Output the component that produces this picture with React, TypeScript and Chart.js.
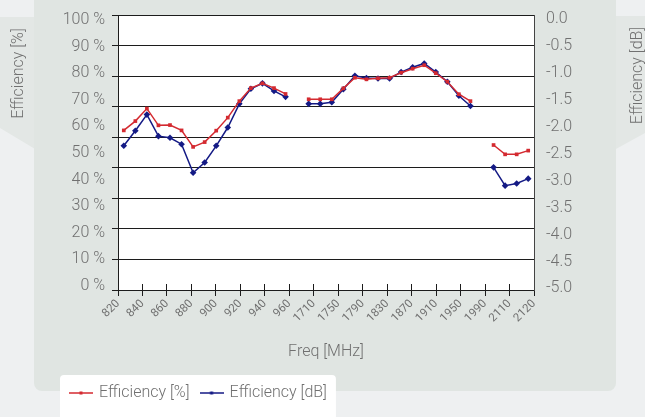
import React, { useEffect, useRef } from 'react';
import { Chart, registerables } from 'chart.js';

Chart.register(...registerables);

// ---- data ----
const categories = [
  '820', '830', '840', '850', '860', '870', '880', '890', '900', '910', '920', '930', '940', '950', '960',
  '',
  '1710', '1730', '1750', '1770', '1790', '1810', '1830', '1850', '1870', '1890', '1910', '1930', '1950', '1970', '1990',
  '',
  '2110', '2120', '2130', '2140',
];

const efficiencyPercent = [
  58.5, 62.0, 66.7, 60.4, 60.5, 58.5, 52.3, 54.1, 58.4, 63.3, 69.5, 74.4, 76.2, 74.4, 72.2,
  null,
  70.2, 70.2, 70.2, 74.3, 78.3, 77.7, 78.1, 78.3, 80.2, 81.7, 83.0, 80.0, 76.8, 72.1, 69.5,
  null,
  53.0, 49.5, 49.5, 50.9,
];

const efficiencyDb = [
  -2.35, -2.07, -1.77, -2.17, -2.2, -2.32, -2.85, -2.66, -2.35, -2.01, -1.57, -1.29, -1.19, -1.33, -1.44,
  null,
  -1.57, -1.57, -1.54, -1.3, -1.05, -1.09, -1.1, -1.1, -0.98, -0.89, -0.82, -0.98, -1.16, -1.42, -1.61,
  null,
  -2.75, -3.09, -3.05, -2.96,
];

const freqTickLabels = [
  '820', '840', '860', '880', '900', '920', '940', '960',
  '1710', '1750', '1790', '1830', '1870', '1910', '1950', '1990',
  '2110', '2120',
];

const percentTicks = [0, 10, 20, 30, 40, 50, 60, 70, 80, 90, 100];
const dbTicks = [-5, -4.5, -4, -3.5, -3, -2.5, -2, -1.5, -1, -0.5, 0];
const gridLineCount = 10;

const seriesNames = ['Efficiency [%]', 'Efficiency [dB]'];
const axisTitles = { x: 'Freq [MHz]', left: 'Efficiency [%]', right: 'Efficiency [dB]' };

// ---- style ----
const FAMILY = 'Roboto, "Open Sans", "Liberation Sans", sans-serif';
const GREY = '#707070';
const RED = '#d42a30';
const BLUE = '#141a85';
const LINE = '#1c1c1c';

function makeIcon(color: string) {
  const c = document.createElement('canvas');
  c.width = 24;
  c.height = 8;
  const g = c.getContext('2d')!;
  g.strokeStyle = color;
  g.lineWidth = 1.5;
  g.beginPath();
  g.moveTo(0, 4);
  g.lineTo(24, 4);
  g.stroke();
  g.fillStyle = color;
  g.fillRect(10.5, 2.5, 3, 3);
  return c;
}

const backgroundPlugin = {
  id: 'bgBoxes',
  beforeDraw(chart: any) {
    const { ctx, chartArea, legend } = chart;
    ctx.save();
    if (legend && legend.legendHitBoxes && legend.legendHitBoxes.length) {
      const last = legend.legendHitBoxes[legend.legendHitBoxes.length - 1];
      const x0 = legend.left + 1;
      const x1 = last.left + last.width + 9;
      const y0 = legend.top + 2;
      const y1 = chart.height + 6;
      ctx.fillStyle = '#ffffff';
      ctx.beginPath();
      (ctx as any).roundRect(x0, y0, x1 - x0, y1 - y0, 4);
      ctx.fill();
    }
    ctx.fillStyle = '#ffffff';
    ctx.fillRect(chartArea.left, chartArea.top, chartArea.right - chartArea.left, chartArea.bottom - chartArea.top);
    ctx.restore();
  },
  afterDraw(chart: any) {
    const { ctx } = chart;
    ctx.save();
    ctx.font = `300 16px ${FAMILY}`;
    ctx.fillStyle = GREY;
    ctx.textAlign = 'center';
    ctx.textBaseline = 'alphabetic';
    ctx.translate(22.7, 73.5);
    ctx.rotate(-Math.PI / 2);
    ctx.fillText(axisTitles.left, 0, 0);
    ctx.restore();
    ctx.save();
    ctx.font = `300 16px ${FAMILY}`;
    ctx.fillStyle = GREY;
    ctx.textAlign = 'center';
    ctx.textBaseline = 'alphabetic';
    ctx.translate(641.7, 75.5);
    ctx.rotate(-Math.PI / 2);
    ctx.fillText(axisTitles.right, 0, 0);
    ctx.restore();
  },
};

function ChartView() {
  const ref = useRef<HTMLCanvasElement | null>(null);

  useEffect(() => {
    if (!ref.current) return;
    const icons = [makeIcon(RED), makeIcon(BLUE)];
    const font16 = { family: FAMILY, size: 16, weight: '300' as any };
    const freqTickBuilder = (s: any) => {
      s.ticks = freqTickLabels.map((_, i) => ({ value: i }));
    };

    const chart = new Chart(ref.current, {
      type: 'line',
      data: {
        labels: categories,
        datasets: [
          {
            label: seriesNames[0],
            data: efficiencyPercent,
            xAxisID: 'x',
            yAxisID: 'y',
            borderColor: RED,
            backgroundColor: RED,
            borderWidth: 1.5,
            pointStyle: 'rect',
            pointRadius: 2.6,
            pointBorderWidth: 0,
            pointBackgroundColor: RED,
            tension: 0,
            spanGaps: false,
          },
          {
            label: seriesNames[1],
            data: efficiencyDb,
            xAxisID: 'x',
            yAxisID: 'y1',
            borderColor: BLUE,
            backgroundColor: BLUE,
            borderWidth: 1.5,
            pointStyle: 'rectRot',
            pointRadius: 3.3,
            pointBorderWidth: 0,
            pointBackgroundColor: BLUE,
            tension: 0,
            spanGaps: false,
          },
        ],
      },
      options: {
        animation: false,
        responsive: false,
        layout: { padding: { left: 59, right: 0, top: 15, bottom: 6 } },
        plugins: {
          tooltip: { enabled: false },
          legend: {
            display: true,
            position: 'bottom',
            align: 'start',
            labels: {
              font: font16,
              color: GREY,
              usePointStyle: true,
              pointStyleWidth: 20,
              padding: 12,
              generateLabels: (c: any) =>
                Chart.defaults.plugins.legend.labels
                  .generateLabels(c)
                  .map((item: any, i: number) => ({ ...item, pointStyle: icons[i] })),
            },
          } as any,
        },
        scales: {
          x: { type: 'category', display: false, offset: true },
          xTicks: {
            type: 'linear',
            position: 'bottom',
            min: 0,
            max: freqTickLabels.length - 1,
            afterBuildTicks: freqTickBuilder,
            afterFit: (s: any) => {
              s.height = 83;
            },
            ticks: {
              autoSkip: false,
              minRotation: 45,
              maxRotation: 45,
              padding: 1,
              color: GREY,
              font: { family: FAMILY, size: 11.5, weight: '400' as any },
              callback: (_v: any, i: number) => freqTickLabels[i],
            },
            grid: { drawOnChartArea: false, drawTicks: true, tickLength: 6, color: LINE },
            border: { display: true, color: LINE },
            title: { display: true, text: axisTitles.x, color: GREY, font: font16, padding: { top: 4, bottom: 11 } },
          },
          xTicksUp: {
            type: 'linear',
            axis: 'x',
            position: { yGrid: 0.2 },
            min: 0,
            max: freqTickLabels.length - 1,
            afterBuildTicks: freqTickBuilder,
            ticks: { display: false },
            grid: { drawOnChartArea: false, drawTicks: true, tickLength: 6, color: LINE },
            border: { display: false },
          },
          y: {
            type: 'linear',
            position: 'left',
            weight: 10,
            min: -1.5,
            max: 101.88,
            afterBuildTicks: (s: any) => {
              s.ticks = percentTicks.map((v) => ({ value: v }));
            },
            afterFit: (s: any) => {
              s.width = 59;
              s.paddingTop = 0;
              s.paddingBottom = 0;
            },
            ticks: { padding: 13, color: GREY, font: font16, callback: (v: any) => `${v} %` },
            grid: { display: false, drawTicks: false },
            border: { display: false },
          },
          yGrid: {
            type: 'linear',
            position: 'left',
            weight: 0,
            min: 0,
            max: gridLineCount - 1,
            afterBuildTicks: (s: any) => {
              s.ticks = Array.from({ length: gridLineCount }, (_, i) => ({ value: i }));
            },
            afterFit: (s: any) => {
              s.width = 0;
              s.paddingTop = 0;
              s.paddingBottom = 0;
            },
            ticks: { display: false },
            grid: { color: LINE, lineWidth: 1, drawTicks: true, tickLength: 6 },
            border: { display: true, color: LINE },
          },
          y1: {
            type: 'linear',
            position: 'right',
            min: -5.028,
            max: 0.08,
            afterBuildTicks: (s: any) => {
              s.ticks = dbTicks.map((v) => ({ value: v }));
            },
            afterFit: (s: any) => {
              s.width = 111;
              s.paddingTop = 0;
              s.paddingBottom = 0;
            },
            ticks: { padding: 12, color: GREY, font: font16, callback: (v: any) => Number(v).toFixed(1) },
            grid: { display: false, drawTicks: false },
            border: { display: true, color: '#444' },
          },
        } as any,
      },
      plugins: [backgroundPlugin],
    });
    return () => chart.destroy();
  }, []);

  return <canvas ref={ref} width={645} height={417} style={{ position: 'absolute', left: 0, top: 0, width: 645, height: 417 }} />;
}

export default function App() {
  return (
    <div style={{ position: 'fixed', left: 0, top: 0, width: 645, height: 417, overflow: 'hidden', background: '#eef0f1' }}>
      <div style={{ position: 'absolute', left: 0, top: 0, width: 40, height: 200, background: '#e3e7e5', clipPath: 'polygon(0px 17px, 40px 17px, 40px 152px, 0px 128px)' }} />
      <div style={{ position: 'absolute', left: 605, top: 0, width: 40, height: 200, background: '#e3e7e5', clipPath: 'polygon(0px 16px, 40px 16px, 40px 133px, 0px 155px)' }} />
      <div style={{ position: 'absolute', left: 34, top: -10, width: 582, height: 401, background: '#e0e5e2', borderRadius: 8 }} />
      <ChartView />
    </div>
  );
}
